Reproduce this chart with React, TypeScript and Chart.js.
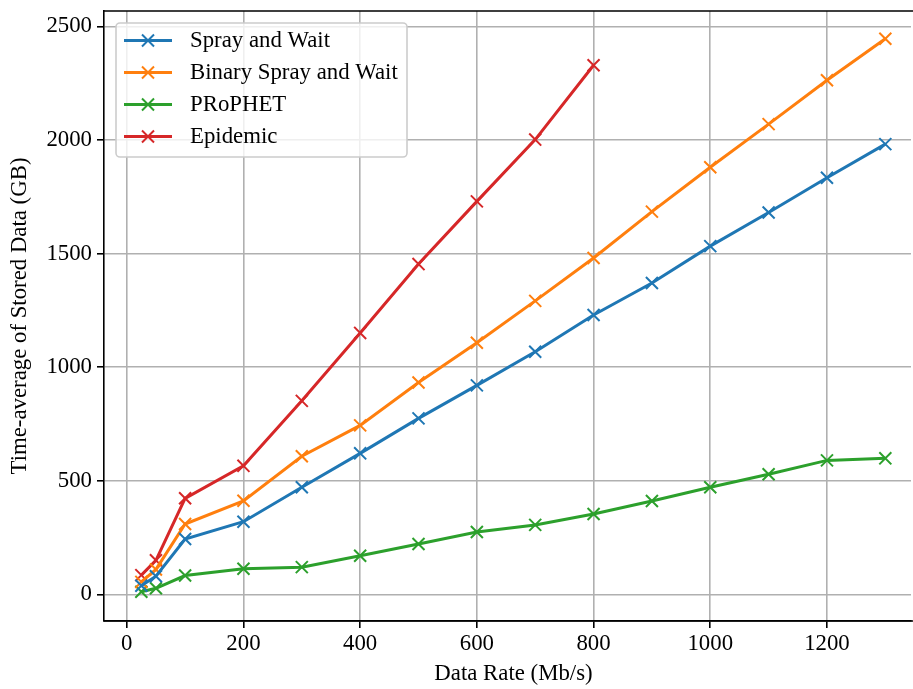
import React, { useEffect, useRef } from "react";
import { Chart, registerables } from "chart.js";

Chart.register(...registerables);

// Data rate (Mb/s) at which each router was simulated
const dataRates = [25, 50, 100, 200, 300, 400, 500, 600, 700, 800, 900, 1000, 1100, 1200, 1300];

// Time-average of stored data (GB)
const sprayAndWait = [38, 80, 244, 320, 472, 621, 775, 920, 1068, 1230, 1371, 1533, 1681, 1834, 1982];
const binarySprayAndWait = [55, 110, 310, 412, 608, 744, 933, 1108, 1292, 1481, 1685, 1880, 2070, 2263, 2446];
const prophet = [12, 27, 83, 113, 120, 170, 222, 275, 306, 354, 411, 472, 529, 590, 599];
const epidemic = [85, 150, 423, 566, 852, 1151, 1454, 1730, 2002, 2329];

const seriesNames = ["Spray and Wait", "Binary Spray and Wait", "PRoPHET", "Epidemic"];
const seriesColors = ["#1f77b4", "#ff7f0e", "#2ca02c", "#d62728"];

const xTicks = [0, 200, 400, 600, 800, 1000, 1200];
const yTicks = [0, 500, 1000, 1500, 2000, 2500];

const xTitle = "Data Rate (Mb/s)";
const yTitle = "Time-average of Stored Data (GB)";

const FONT = "'Liberation Serif', 'Times New Roman', serif";
const FONT_SIZE = 22.8;

const toPoints = (ys: number[]) => ys.map((y, i) => ({ x: dataRates[i], y }));

// Open-ended plot frame, x-axis title and an in-plot legend box
const framePlugin = {
  id: "frameAndLegend",
  afterDraw(chart: any) {
    const { ctx, chartArea, width } = chart;
    ctx.save();
    ctx.strokeStyle = "#000";
    ctx.lineWidth = 1.6;
    ctx.beginPath();
    ctx.moveTo(chartArea.left, chartArea.top);
    ctx.lineTo(width, chartArea.top);
    ctx.moveTo(chartArea.left, chartArea.bottom);
    ctx.lineTo(width, chartArea.bottom);
    ctx.stroke();

    // x-axis title, centred on the full plot box (which runs past the canvas edge)
    ctx.font = `${FONT_SIZE}px ${FONT}`;
    ctx.fillStyle = "#000";
    ctx.textAlign = "center";
    ctx.textBaseline = "middle";
    ctx.fillText(xTitle, (chartArea.left + width + 10) / 2, 674);

    // legend
    const bx = 116, by = 23, bw = 291, bh = 134, r = 4;
    ctx.beginPath();
    ctx.moveTo(bx + r, by);
    ctx.lineTo(bx + bw - r, by);
    ctx.arcTo(bx + bw, by, bx + bw, by + r, r);
    ctx.lineTo(bx + bw, by + bh - r);
    ctx.arcTo(bx + bw, by + bh, bx + bw - r, by + bh, r);
    ctx.lineTo(bx + r, by + bh);
    ctx.arcTo(bx, by + bh, bx, by + bh - r, r);
    ctx.lineTo(bx, by + r);
    ctx.arcTo(bx, by, bx + r, by, r);
    ctx.closePath();
    ctx.fillStyle = "rgba(255,255,255,0.8)";
    ctx.fill();
    ctx.strokeStyle = "#cccccc";
    ctx.lineWidth = 1.6;
    ctx.stroke();

    ctx.textAlign = "left";
    seriesNames.forEach((name, i) => {
      const y = 40.5 + i * 32;
      ctx.strokeStyle = seriesColors[i];
      ctx.lineWidth = 3;
      ctx.beginPath();
      ctx.moveTo(124, y);
      ctx.lineTo(172, y);
      ctx.stroke();
      ctx.lineWidth = 2;
      ctx.beginPath();
      ctx.moveTo(142, y - 6);
      ctx.lineTo(154, y + 6);
      ctx.moveTo(142, y + 6);
      ctx.lineTo(154, y - 6);
      ctx.stroke();
      ctx.fillStyle = "#000";
      ctx.fillText(name, 190, y + 1);
    });
    ctx.restore();
  },
};

export default function App() {
  const canvasRef = useRef<HTMLCanvasElement | null>(null);

  useEffect(() => {
    if (!canvasRef.current) return;
    const allSeries = [sprayAndWait, binarySprayAndWait, prophet, epidemic];
    const chart = new Chart(canvasRef.current, {
      type: "line",
      data: {
        datasets: allSeries.map((ys, i) => ({
          label: seriesNames[i],
          data: toPoints(ys),
          borderColor: seriesColors[i],
          backgroundColor: seriesColors[i],
          borderWidth: 3,
          pointStyle: "crossRot",
          pointRadius: 8.5,
          pointBorderWidth: 2,
          pointBorderColor: seriesColors[i],
          pointHoverRadius: 8.5,
          fill: false,
          tension: 0,
        })),
      },
      options: {
        animation: false,
        responsive: false,
        devicePixelRatio: 1,
        layout: { autoPadding: false, padding: { top: 11, right: 2, bottom: 0, left: 0 } },
        plugins: {
          legend: { display: false },
          tooltip: { enabled: false },
        },
        scales: {
          x: {
            type: "linear",
            min: -39,
            max: 1344,
            afterFit: (scale: any) => {
              scale.height = 68;
              scale.paddingLeft = 0;
              scale.paddingRight = 0;
            },
            afterBuildTicks: (scale: any) => {
              scale.ticks = xTicks.map((v) => ({ value: v }));
            },
            ticks: {
              color: "#000",
              font: { family: FONT, size: FONT_SIZE },
              padding: 2,
              maxRotation: 0,
              autoSkip: false,
              callback: (v: any) => String(v),
            },
            grid: {
              color: "#b0b0b0",
              lineWidth: 1.6,
              tickColor: "#000",
              tickLength: 7,
              tickWidth: 1.6,
            },
            border: { color: "#000", width: 1.6 },
            title: { display: false },
          },
          y: {
            type: "linear",
            min: -117,
            max: 2568,
            afterFit: (scale: any) => {
              scale.width = 104;
              scale.paddingTop = 0;
              scale.paddingBottom = 0;
            },
            afterBuildTicks: (scale: any) => {
              scale.ticks = yTicks.map((v) => ({ value: v }));
            },
            ticks: {
              color: "#000",
              font: { family: FONT, size: FONT_SIZE },
              padding: 5,
              autoSkip: false,
              callback: (v: any) => String(v),
            },
            grid: {
              color: "#b0b0b0",
              lineWidth: 1.6,
              tickColor: "#000",
              tickLength: 7,
              tickWidth: 1.6,
            },
            border: { color: "#000", width: 1.6 },
            title: {
              display: true,
              text: yTitle,
              color: "#000",
              font: { family: FONT, size: FONT_SIZE },
              padding: { top: 6, bottom: 0 },
            },
          },
        },
      },
      plugins: [framePlugin],
    });
    return () => chart.destroy();
  }, []);

  return (
    <div style={{ position: "fixed", left: 0, top: 0, width: 913, height: 689, background: "#fff", overflow: "hidden" }}>
      <canvas ref={canvasRef} width={913} height={689} style={{ display: "block" }} />
    </div>
  );
}
